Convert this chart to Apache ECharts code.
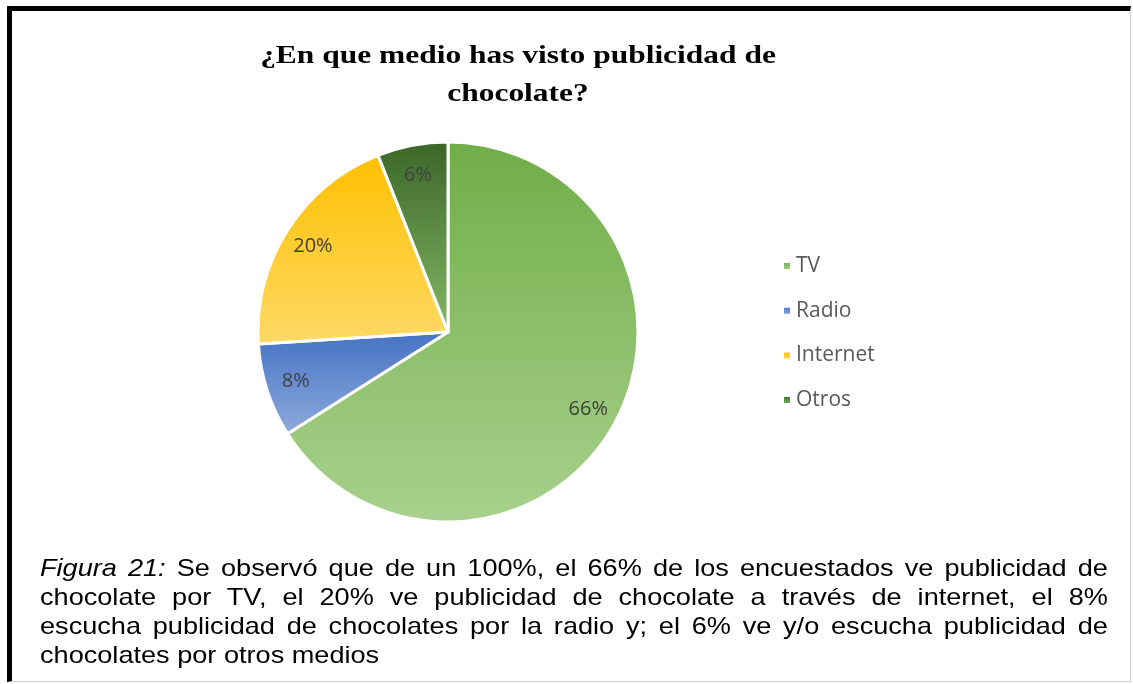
<!DOCTYPE html>
<html>
<head>
<meta charset="utf-8">
<script src="https://cdn.jsdelivr.net/npm/echarts@6/dist/echarts.min.js"></script>
<style>
  html, body { margin: 0; padding: 0; background: #fff; }
  #wrap { position: relative; width: 1133px; height: 684px; overflow: hidden; background: #fff; }
  #frame { position: absolute; left: 7px; top: 6px; width: 1124px; height: 676px;
           border-left: 5px solid #000; border-top: 5px solid #000;
           border-right: 1px solid #d0d0d0; border-bottom: 1px solid #d0d0d0; box-sizing: border-box; }
  #chart { position: absolute; left: 0; top: 0; width: 1133px; height: 684px; }
  #caption { position: absolute; left: 40px; top: 553px; width: 945px;
             transform: scaleX(1.13); transform-origin: 0 0;
             font-family: "Liberation Sans", Arial, sans-serif; font-size: 24px; line-height: 29px; color: #000; }
  #caption div { white-space: nowrap; }
  #caption .j { text-align: justify; text-align-last: justify; }
  #caption i { font-style: italic; }
</style>
</head>
<body>
<div id="wrap">
  <div id="frame"></div>
  <div id="chart"></div>
  <div id="caption"></div>
</div>
<script>
const titleLines = ['¿En que medio has visto publicidad de', 'chocolate?'];
const categories = ['TV', 'Radio', 'Internet', 'Otros'];
const values = [66, 8, 20, 6];
const topColors = ['#70AD47', '#4472C4', '#FFC000', '#3B6628'];
const bottomColors = ['#A9D18E', '#8FAADC', '#FFD966', '#84B866'];
const captionLabel = 'Figura 21:';
const captionLines = [
  ' Se observó que de un 100%, el 66% de los encuestados ve publicidad de',
  'chocolate por TV, el 20% ve publicidad de chocolate a través de internet, el 8%',
  'escucha publicidad de chocolates por la radio y; el 6% ve y/o escucha publicidad de',
  'chocolates por otros medios'
];

// caption (real text, justified like the original)
const cap = document.getElementById('caption');
captionLines.forEach((ln, i) => {
  const d = document.createElement('div');
  if (i < captionLines.length - 1) d.className = 'j';
  if (i === 0) {
    const it = document.createElement('i');
    it.textContent = captionLabel;
    d.appendChild(it);
    d.appendChild(document.createTextNode(ln));
  } else {
    d.textContent = ln;
  }
  cap.appendChild(d);
});

const pieData = categories.map((name, i) => ({
  name: name,
  value: values[i],
  itemStyle: {
    color: new echarts.graphic.LinearGradient(0, 0, 0, 1, [
      { offset: 0, color: topColors[i] },
      { offset: 1, color: bottomColors[i] }
    ])
  }
}));
const labelData = categories.map((name, i) => ({ name: name, value: values[i] }));

const chart = echarts.init(document.getElementById('chart'), null, { renderer: 'canvas' });
chart.setOption({
  backgroundColor: 'transparent',
  animation: false,
  graphic: [
    {
      type: 'text',
      x: 518,
      y: 37,
      scaleX: 1.21,
      silent: true,
      style: {
        text: titleLines.join('\n'),
        x: 0,
        y: 0,
        align: 'center',
        verticalAlign: 'top',
        fontFamily: '"Liberation Serif", "Times New Roman", serif',
        fontWeight: 'bold',
        fontSize: 26,
        lineHeight: 38,
        fill: '#000'
      }
    }
  ],
  legend: {
    orient: 'vertical',
    left: 777,
    top: 250,
    data: categories,
    icon: 'rect',
    itemWidth: 8,
    itemHeight: 8,
    itemGap: 22.7,
    selectedMode: false,
    textStyle: {
      fontFamily: '"Open Sans", Lato, sans-serif',
      fontSize: 21,
      lineHeight: 22,
      color: '#595959'
    }
  },
  series: [
    {
      type: 'pie',
      center: [448, 332],
      radius: [0, 190],
      startAngle: 90,
      clockwise: true,
      data: pieData,
      itemStyle: { borderColor: '#fff', borderWidth: 3 },
      label: { show: false },
      labelLine: { show: false },
      emphasis: { disabled: true }
    },
    {
      type: 'pie',
      center: [448, 332],
      radius: [124, 190],
      startAngle: 90,
      clockwise: true,
      silent: true,
      data: labelData,
      itemStyle: { color: 'rgba(0,0,0,0)', borderWidth: 0 },
      label: {
        show: true,
        position: 'inside',
        formatter: '{c}%',
        fontFamily: '"Open Sans", Lato, sans-serif',
        fontSize: 20,
        color: '#404040'
      },
      labelLine: { show: false },
      emphasis: { disabled: true }
    }
  ]
});
</script>
</body>
</html>
